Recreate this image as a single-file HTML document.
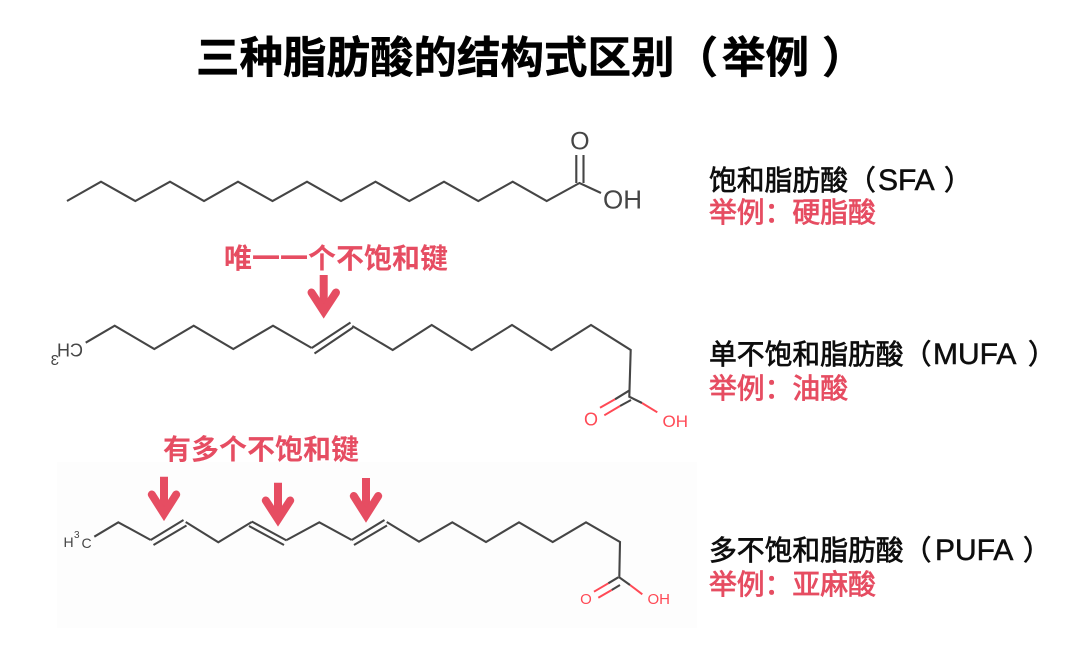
<!DOCTYPE html>
<html lang="zh">
<head>
<meta charset="utf-8">
<title>三种脂肪酸的结构式区别</title>
<style>
html,body{margin:0;padding:0;background:#fff;width:1080px;height:648px;overflow:hidden}
svg{display:block}
text{font-family:"Liberation Sans","Noto Sans CJK SC",sans-serif}
.t{font-size:43.5px;font-weight:700;fill:#000;stroke:#000;stroke-width:.5}
.b{font-size:27.8px;fill:#0a0a0a;stroke:#0a0a0a;stroke-width:.7}
.l{font-size:30px;fill:#0a0a0a;stroke:#0a0a0a;stroke-width:.5}
.r{font-size:27.8px;fill:#e64d62;stroke:#e64d62;stroke-width:.8}
.a{font-size:28px;font-weight:700;fill:#e64d62}
.c{fill:none;stroke:#444;stroke-width:2.1;stroke-linejoin:miter}
.o{fill:none;stroke:#ff4a55;stroke-width:2}
.stem{fill:none;stroke:#e64d62;stroke-width:8}
.arm{fill:none;stroke:#e64d62;stroke-width:8;stroke-linecap:round;stroke-linejoin:miter;stroke-miterlimit:10}
</style>
</head>
<body>
<svg width="1080" height="648" viewBox="0 0 1080 648" xmlns="http://www.w3.org/2000/svg">
<defs><filter id="s" x="0" y="0" width="100%" height="100%"><feGaussianBlur stdDeviation="0.35"/></filter></defs>
<g filter="url(#s)">
<rect x="57" y="462" width="640" height="166" fill="#fdfdfd"/>

<text class="t" x="196" y="73">三种脂肪酸的结构式区别（</text>
<text class="t" x="722" y="73">举例</text>
<text class="t" x="822" y="73">）</text>

<!-- SFA -->
<polyline class="c" points="67,201 101,181.7 135.3,201 170,181.7 204,201 238,181.7 272.5,201 307,181.7 341,201 375.5,181.7 409.3,201 444,181.7 478.3,201 512.7,181.7 546.7,201 579.5,183 601,193"/>
<path class="c" d="M576.3,183V155M583.5,183V155"/>
<text x="579.8" y="149.5" text-anchor="middle" font-size="25" fill="#444">O</text>
<text x="603" y="208.5" font-size="26" fill="#444">OH</text>

<!-- MUFA -->
<polyline class="c" points="85.7,342.7 114.7,325.7 154.3,349 193.7,325.7 233.3,349 273,325.7 311.7,348"/>
<polyline class="c" points="352.3,326 392.7,350 431.7,325 471.7,350 512,325 551.3,350 591,325 630.7,350 629.3,396.7 642,403"/>
<path class="c" d="M311.7,348L350.5,322.5M314.5,353.5L353,327.5"/>
<path class="c" d="M629,390.7L615,399.3M631,400L620,406"/>
<path class="o" d="M615,399.3L600,407.7M620,406L604.3,415.3M642,403L657.3,412.3"/>
<text transform="translate(83,356.5) scale(-1,1)" font-size="18" fill="#444">CH</text>
<text transform="translate(59,365) scale(-1,1)" font-size="15" fill="#444">3</text>
<text x="591" y="425.5" text-anchor="middle" font-size="18" fill="#ff4a55">O</text>
<text x="662.5" y="427" font-size="17" fill="#ff4a55">OH</text>

<!-- PUFA -->
<polyline class="c" points="94.3,536.7 118.3,522.3 150.7,540"/>
<polyline class="c" points="185.7,522 218.3,542.3 251.7,522"/>
<polyline class="c" points="286.7,540 319.3,522.3 351.7,540"/>
<polyline class="c" points="386.7,522 419,541.7 452.3,522.3 486,542 519,522.3 552.7,542 586,522.3 620,542 619.3,577.3 630,585"/>
<path class="c" d="M150.7,540L183.5,520M153.5,545L186.5,525.5"/>
<path class="c" d="M251.7,521.5L286.7,540.5M249,526L284,545"/>
<path class="c" d="M351.7,540L384.5,520M354,545L387,525.5"/>
<path class="c" d="M618.3,577.3L608.3,583.3M620,585L611.7,590"/>
<path class="o" d="M608.3,583.3L594,591.7M611.7,590L598.3,597.7M630,585L642.3,594.3"/>
<text x="63.5" y="547" font-size="14" fill="#444">H</text>
<text x="74" y="538" font-size="10" fill="#444">3</text>
<text x="81.5" y="548" font-size="14" fill="#444">C</text>
<text x="586" y="604" text-anchor="middle" font-size="15" fill="#ff4a55">O</text>
<text x="647.5" y="604" font-size="15" fill="#ff4a55">OH</text>

<!-- arrows -->
<path class="stem" d="M323.7,275V312M164,476.7V514M278,482.7V520M366,478V516"/>
<path class="arm" d="M311.5,292.5L323.7,311.3L336,292.5"/>
<path class="arm" d="M151.8,494.5L164,513.7L176.2,494.5"/>
<path class="arm" d="M265.8,500.5L278,519.3L290.2,500.5"/>
<path class="arm" d="M353.8,496L366,515.3L378.2,496"/>

<!-- annotations -->
<text class="a" x="224" y="268">唯一一个不饱和键</text>
<text class="a" x="163" y="459">有多个不饱和键</text>

<!-- labels -->
<text class="b" x="709" y="190">饱和脂肪酸（</text>
<text class="l" x="878" y="190">SFA</text>
<text class="b" x="944" y="190">）</text>
<text class="r" x="709" y="222">举例：硬脂酸</text>

<text class="b" x="709" y="364">单不饱和脂肪酸（</text>
<text class="l" x="933" y="364">MUFA</text>
<text class="b" x="1028" y="364">）</text>
<text class="r" x="709" y="398">举例：油酸</text>

<text class="b" x="709" y="560">多不饱和脂肪酸（</text>
<text class="l" x="935" y="560">PUFA</text>
<text class="b" x="1023" y="560">）</text>
<text class="r" x="709" y="594">举例：亚麻酸</text>
</g>
</svg>
</body>
</html>
